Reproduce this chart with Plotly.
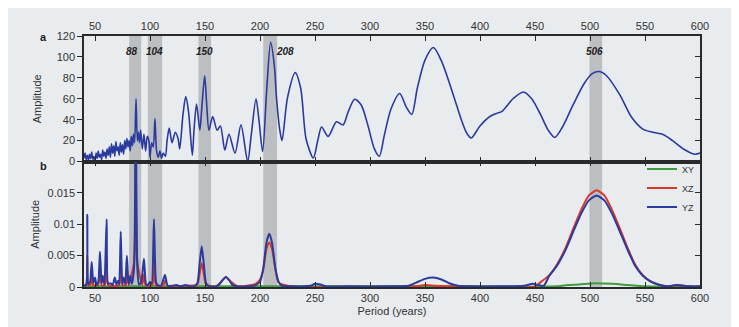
import plotly.graph_objects as go

# ---------------- Panel a: amplitude spectrum ----------------
period_a = [40, 41, 42, 43, 44, 45, 46, 47, 48, 49, 50, 51, 52, 53, 54, 55, 56, 57, 58, 59,
            60, 61, 62, 63, 64, 65, 66, 67, 68, 69, 70, 71, 72, 73, 74, 75, 76, 77, 78, 79,
            80, 81, 82, 83, 84, 85, 86, 87.3, 88.5, 89.5, 90.5, 91.5, 93, 94.5, 96, 97.5, 99,
            100, 101.5, 103, 104.5, 106, 107.5, 109, 110.5, 112, 114, 115.5, 117.5, 120, 123,
            125.5, 127, 130, 132.5, 135, 138.5, 140, 142.3, 145.3, 147, 149.7, 151.5, 153.6,
            157, 161, 164, 168, 171.8, 177.3, 182.7, 188.8, 192, 196.4, 199, 202.4, 206,
            209.7, 213, 215, 218, 220, 225, 232, 237, 242, 248.5, 252.5, 256, 262, 269.5,
            275.5, 280, 286, 292, 298, 304, 308.5, 313, 319, 327, 333, 338, 343, 350, 357.6,
            365, 375, 383, 388, 392, 400, 409, 415, 420, 430, 439.5, 447, 455, 462, 468, 475,
            485, 495, 502, 508.5, 515, 527, 538, 548, 557, 566, 575, 585, 595, 600]
amp_a = [3, 8, 2, 6, 1, 7, 3, 9, 2, 5, 0, 8, 3, 10, 4, 7, 2, 11, 5, 9,
         3, 12, 6, 14, 4, 17, 8, 15, 5, 19, 10, 14, 6, 18, 9, 16, 7, 20, 12, 22,
         14, 20, 10, 24, 15, 26, 18, 60, 20, 28, 18, 30, 12, 26, 10, 24, 20,
         4, 18, 14, 41, 10, 4, 10, 3, 8, 5, 20, 32, 18, 28,
         22, 12, 45, 62, 48, 6, 30, 55, 30, 50, 82, 55, 30,
         43, 30, 34, 11, 26, 8, 35, 0, 25, 60, 40, 9.5, 67,
         114, 92, 61, 30, 20, 61, 85, 70, 21, 3.4, 20, 33, 24, 38,
         35, 47, 59.5, 54, 35, 12, 5, 25, 50, 65, 52, 45, 70, 97, 109,
         96, 66, 40, 27, 22.5, 34, 43, 46, 48, 60, 66.5, 60, 45, 30, 23, 33,
         55, 75, 84, 86, 82, 64, 42, 31, 28, 26, 20, 12, 7, 8]

# ---------------- Panel b: per-plane spectra ----------------
period_xy = [40, 100, 200, 300, 400, 470, 480, 490, 505, 520, 535, 550, 575, 600]
amp_xy = [0.0001, 0.0001, 0.0001, 0.0001, 0.0001, 0.0001, 0.0003, 0.0004, 0.0006, 0.0005,
          0.0003, 0.0001, 0.0001, 0.0]

period_xz = [40, 42, 43, 44, 46, 47, 48.5, 53, 54.5, 56, 59, 60.6, 62, 72, 73.4, 75, 78, 79,
             80.5, 85.5, 87, 88.5, 93, 94.5, 96, 102, 103.6, 105.5, 112, 113.6, 116, 130,
             143, 145, 147, 149, 151, 160, 166, 169, 172, 180, 196, 200, 203, 206, 208.5,
             211, 214, 217, 230, 340, 350, 360, 380, 450, 456, 463, 470, 478, 485, 492, 499,
             506, 513, 520, 527, 534, 541, 548, 555, 562, 570, 580, 590, 600]
amp_xz = [0.0002, 0.0003, 0.005, 0.0003, 0.0004, 0.002, 0.0003, 0.0004, 0.003, 0.0003,
          0.0003, 0.005, 0.0003, 0.0003, 0.004, 0.0003, 0.0003, 0.003,
          0.0003, 0.004, 0.03, 0.004, 0.0003, 0.002, 0.0003, 0.0003, 0.005, 0.0003, 0.0002,
          0.001, 0.0002, 0.0002,
          0.0004, 0.002, 0.0038, 0.002, 0.0004, 0.0001, 0.0011, 0.0016, 0.0011, 0.0001,
          0.0005, 0.0012, 0.0028, 0.0062, 0.0071,
          0.006, 0.0028, 0.0007, 0.0001, 0.0001, 0.0003, 0.0002, 0.0001, 0.0001, 0.0009,
          0.0019, 0.0036, 0.0063, 0.0094, 0.0123, 0.0146,
          0.0154, 0.0146, 0.0123, 0.0094, 0.0063, 0.0036, 0.0019, 0.0009, 0.0004, 0.0001,
          0.0003, 0.0001, 0.0001]

period_yz = [40, 42, 43, 44, 45.5, 47, 48.5, 50, 51.5, 53, 54.5, 56, 57, 58.5, 60.6, 62, 64,
             66, 68, 69.5, 71, 72, 73.4, 74.8, 76, 77.5, 79, 80.5, 82, 83.5, 85.5, 87, 88.5,
             90, 92, 94.5, 96.5, 98, 100, 101.5, 103.6, 105.5, 107, 110, 113.6, 116, 120,
             124, 128, 132, 136, 140, 143, 145, 147, 149, 151, 154, 160, 163, 166, 169,
             172, 175, 180, 190, 196, 200, 203, 206, 208.5, 211, 214, 217, 220, 230, 240,
             246, 250, 255, 260, 280, 320, 335, 342, 350, 357, 365, 372, 380, 390, 420,
             440, 448, 453, 458, 463, 470, 478, 485, 492, 499, 506, 513, 520, 527, 534,
             541, 548, 555, 562, 570, 578, 585, 592, 600]
amp_yz = [0.0002, 0.0004, 0.0115, 0.0005, 0.0008, 0.004, 0.0006, 0.0015, 0.0003, 0.0008,
          0.0056, 0.0006, 0.0018, 0.0004, 0.0108, 0.0005, 0.0006,
          0.0003, 0.0015, 0.0004, 0.001, 0.0004, 0.0088, 0.0004, 0.0015, 0.0004, 0.005,
          0.0004, 0.0018, 0.0005, 0.003, 0.03, 0.003,
          0.0004, 0.0008, 0.0045, 0.0004, 0.0003, 0.0008, 0.0005, 0.0108, 0.0008, 0.0003,
          0.0002, 0.0019, 0.0002, 0.0002,
          0.0003, 0.0001, 0.0003, 0.0001, 0.0001, 0.0006, 0.0035, 0.0065, 0.0035, 0.0006,
          0.0001, 0.0001, 0.0004, 0.0011, 0.0016,
          0.0011, 0.0003, 0.0001, 0.0001, 0.0003, 0.0008, 0.003, 0.0072, 0.0085, 0.007,
          0.003, 0.0008, 0.0002, 0.0001, 0.0001,
          0.0002, 0.0005, 0.0004, 0.0001, 0.0001, 0.0001, 0.0002, 0.0007, 0.0013, 0.0015,
          0.0012, 0.0006, 0.0002, 0.0001, 0.0001,
          0.0002, 0.0005, 0.0003, 0.0002, 0.0018, 0.0034, 0.006, 0.0089, 0.0117, 0.0138,
          0.0146, 0.0138, 0.0117, 0.0089, 0.006,
          0.0034, 0.0018, 0.0009, 0.0004, 0.0001, 0.0003, 0.0002, 0.0001, 0.0001]

# Highlighted period bands and labels
band_lo = [81, 98, 144, 203, 499.5]
band_hi = [92, 111, 155.5, 215.5, 511]
band_labels = ["88", "104", "150", "208", "506"]
label_x = [84, 104.5, 149.5, 222.5, 504.5]

x_ticks = [50, 100, 150, 200, 250, 300, 350, 400, 450, 500, 550, 600]
ya_ticks = [0, 20, 40, 60, 80, 100, 120]
yb_ticks = [0, 0.005, 0.01, 0.015]
yb_ticktext = ["0", "0.005", "0.01", "0.015"]

BLUE = "#2a3a9e"
RED = "#d8372a"
GREEN = "#3e9b3e"
BG = "#e8ecef"
AX = "#2a2a2a"
FONT = "Liberation Sans, Arial, sans-serif"

# page body has an 8px margin: plot area 84..700 x 32..287 on the page
ML, MR, MT, MB = 76, 47, 24, 48
PW = 739 - ML - MR
PH = 327 - MT - MB

fig = go.Figure()

fig.add_trace(go.Scatter(x=period_a, y=amp_a, mode="lines", xaxis="x", yaxis="y",
                         line=dict(color=BLUE, width=1.6, shape="spline", smoothing=0.8),
                         showlegend=False, hoverinfo="skip"))
fig.add_trace(go.Scatter(x=period_xy, y=amp_xy, mode="lines", name="XY", xaxis="x2", yaxis="y2",
                         line=dict(color=GREEN, width=2, shape="spline", smoothing=0.8)))
fig.add_trace(go.Scatter(x=period_xz, y=amp_xz, mode="lines", name="XZ", xaxis="x2", yaxis="y2",
                         line=dict(color=RED, width=2, shape="spline", smoothing=0.6)))
fig.add_trace(go.Scatter(x=period_yz, y=amp_yz, mode="lines", name="YZ", xaxis="x2", yaxis="y2",
                         line=dict(color=BLUE, width=2, shape="spline", smoothing=0.6)))
# invisible traces so the right-hand tick axes are drawn
fig.add_trace(go.Scatter(x=[None], y=[None], xaxis="x", yaxis="y3", showlegend=False))
fig.add_trace(go.Scatter(x=[None], y=[None], xaxis="x2", yaxis="y4", showlegend=False))

shapes = []
for lo, hi in zip(band_lo, band_hi):
    shapes.append(dict(type="rect", xref="x", yref="paper", x0=lo, x1=hi, y0=0, y1=1,
                       fillcolor="#bcbfc2", line=dict(width=0), layer="below"))
annotations = []
for lab, lx in zip(band_labels, label_x):
    annotations.append(dict(x=lx, y=105, xref="x", yref="y", text="<b><i>" + lab + "</i></b>",
                            showarrow=False, font=dict(size=10, color="#222", family=FONT)))
annotations += [
    dict(x=-46 / PW, y=1 + 7 / PH, xref="paper", yref="paper", text="<b>a</b>",
         showarrow=False, font=dict(size=11, color="#222", family=FONT)),
    dict(x=-46 / PW, y=0.5 - 5 / PH, xref="paper", yref="paper", text="<b>b</b>",
         showarrow=False, font=dict(size=11, color="#222", family=FONT)),
]

common_x = dict(range=[40, 600], tickvals=x_ticks, ticks="inside", ticklen=5, tickwidth=1.3,
                tickcolor=AX, showline=True, linecolor=AX, linewidth=1.5, mirror="ticks",
                showgrid=False, zeroline=False, tickfont=dict(size=11, color="#333", family=FONT))
common_y = dict(ticks="outside", ticklen=5, tickwidth=1.3, tickcolor=AX, showline=True,
                linecolor=AX, linewidth=1.5, mirror=True, showgrid=False, zeroline=False,
                tickfont=dict(size=11, color="#333", family=FONT))
right_y = dict(side="right", ticks="inside", ticklen=5, tickwidth=1.3, tickcolor=AX,
               showticklabels=False, showgrid=False, zeroline=False, showline=False)

fig.update_layout(
    width=739, height=327,
    margin=dict(l=ML, r=MR, t=MT, b=MB),
    paper_bgcolor=BG, plot_bgcolor=BG,
    font=dict(family=FONT, color="#333"),
    xaxis=dict(common_x, domain=[0, 1], anchor="y", side="top"),
    yaxis=dict(common_y, domain=[0.5, 1], anchor="x", range=[0, 120], tickvals=ya_ticks,
               title=dict(text="Amplitude", font=dict(size=11, color="#333"), standoff=13)),
    yaxis3=dict(right_y, overlaying="y", anchor="x", range=[0, 120], tickvals=ya_ticks),
    xaxis2=dict(common_x, domain=[0, 1], anchor="y2", side="bottom",
                title=dict(text="Period (years)", font=dict(size=11, color="#333"), standoff=4)),
    yaxis2=dict(common_y, domain=[0, 0.5], anchor="x2", range=[0, 0.02], tickvals=yb_ticks,
                ticktext=yb_ticktext,
                title=dict(text="Amplitude", font=dict(size=11, color="#333"), standoff=6)),
    yaxis4=dict(right_y, overlaying="y2", anchor="x2", range=[0, 0.02], tickvals=yb_ticks),
    shapes=shapes,
    annotations=annotations,
    legend=dict(x=1, xanchor="right", y=0.5 + 7 / PH, yanchor="top", bgcolor="rgba(0,0,0,0)",
                font=dict(size=9, color="#333", family=FONT), tracegroupgap=0,
                itemwidth=30),
    showlegend=True,
)

fig.write_html("out.html")
